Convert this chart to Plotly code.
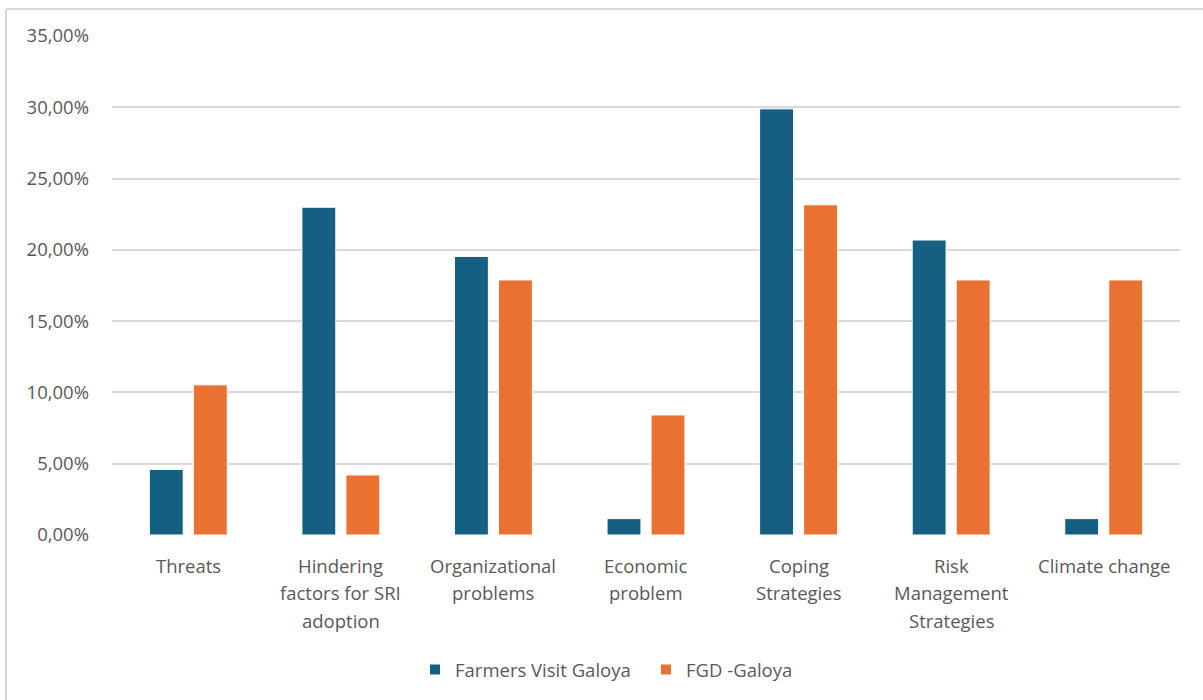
import plotly.graph_objects as go

# Share of responses per theme, by data source (percent)
categories = [
    "Threats",
    "Hindering<br>factors for SRI<br>adoption",
    "Organizational<br>problems",
    "Economic<br>problem",
    "Coping<br>Strategies",
    "Risk<br>Management<br>Strategies",
    "Climate change",
]
farmers_visit = [4.60, 22.99, 19.54, 1.15, 29.89, 20.69, 1.15]
fgd_galoya = [10.53, 4.21, 17.89, 8.42, 23.16, 17.89, 17.89]
series_names = ["Farmers Visit Galoya", "FGD -Galoya"]
y_ticks = [0, 5, 10, 15, 20, 25, 30, 35]
y_tick_labels = ["0,00%", "5,00%", "10,00%", "15,00%", "20,00%", "25,00%", "30,00%", "35,00%"]

BLUE = "#156082"
ORANGE = "#E97132"
TEXT = "#595959"
GRID = "#D9D9D9"
FONT = "Open Sans, Liberation Sans, sans-serif"
FS = 18.5

W, H = 1203, 700
L, R, T, B = 112, 23, 36, 164

fig = go.Figure()
for name, vals, color in [(series_names[0], farmers_visit, BLUE),
                          (series_names[1], fgd_galoya, ORANGE)]:
    fig.add_trace(go.Bar(
        x=list(range(len(categories))), y=vals, name=name,
        marker=dict(color=color, line=dict(color="white", width=1)),
    ))

# Category labels drawn line by line to control line spacing
annotations = []
for i, label in enumerate(categories):
    for j, line in enumerate(label.split("<br>")):
        annotations.append(dict(
            x=i, y=0, xref="x", yref="y", text=line, showarrow=False,
            xanchor="center", yanchor="middle", yshift=-30 - 27.5 * j,
            font=dict(family=FONT, size=FS, color=TEXT),
        ))

# Outer chart frame (top and left edges)
pw, ph = W - L - R, H - T - B
fx0 = (6 - L) / pw
fy_top = (H - B - 9) / ph
fy_bot = (H - B - H - 5) / ph
fx_right = (W + 5 - L) / pw
shapes = [
    dict(type="line", xref="paper", yref="paper", x0=fx0, x1=fx_right, y0=fy_top, y1=fy_top,
         line=dict(color=GRID, width=2)),
    dict(type="line", xref="paper", yref="paper", x0=fx0, x1=fx0, y0=fy_top, y1=fy_bot,
         line=dict(color=GRID, width=2)),
]

fig.update_layout(
    width=W, height=H,
    margin=dict(l=L, r=R, t=T, b=B, pad=0),
    paper_bgcolor="white", plot_bgcolor="white",
    barmode="group", bargap=0.423, bargroupgap=0.23,
    font=dict(family=FONT, size=FS, color=TEXT),
    xaxis=dict(
        range=[-0.5, len(categories) - 0.5], showticklabels=False,
        showgrid=False, zeroline=False, showline=False, ticks="",
        fixedrange=True,
    ),
    yaxis=dict(
        range=[0, 35], tickvals=y_ticks, ticktext=y_tick_labels,
        showgrid=True, gridcolor=GRID, gridwidth=1.5,
        zeroline=False, showline=False, ticks="", ticklabelstandoff=22,
        tickfont=dict(family=FONT, size=FS, color=TEXT),
    ),
    legend=dict(
        orientation="h", x=0.5, xanchor="center", y=-0.268, yanchor="middle",
        font=dict(family=FONT, size=FS, color=TEXT),
        itemwidth=30, traceorder="normal", entrywidth=186, itemsizing="constant",
    ),
    annotations=annotations,
    shapes=shapes,
    showlegend=True,
)

fig.write_html("out.html")
